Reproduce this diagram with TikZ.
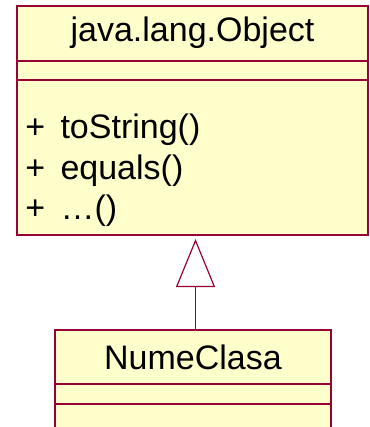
\documentclass[tikz,border=0pt]{standalone}
\usepackage{fontspec}
\setmainfont{Liberation Sans}
\usetikzlibrary{arrows.meta}

\definecolor{umlfill}{RGB}{255,255,204}
\definecolor{umlline}{RGB}{153,0,51}

\begin{document}
\begin{tikzpicture}[x=0.5pt, y=-0.5pt, font=\fontsize{17}{20}\selectfont,
    umlbox/.style={draw=umlline, fill=umlfill, line width=0.6pt, inner sep=0pt, outer sep=0pt, anchor=north west},
    umltext/.style={inner sep=0pt, anchor=base west}]
\useasboundingbox (0, 0) rectangle (369, 427);

% superclass
\node [umlbox, minimum width=175.5pt, minimum height=27.5pt, text height=12.2pt, text depth=4.5pt] (objname) at (17, 6) {java.lang.Object};
\node [umlbox, minimum width=175.5pt, minimum height=9.5pt] (objattr) at (17, 61) {};
\node [umlbox, minimum width=175.5pt, minimum height=77.5pt] (objmeth) at (17, 80) {};

\node [umltext] (m1) at (25, 139) {+\hspace{0.45em}toString()};
\node [umltext] (m2) at (25, 179) {+\hspace{0.45em}equals()};
\node [umltext] (m3) at (25, 219) {+\hspace{0.45em}\ldots()};

% subclass
\node [umlbox, minimum width=138pt, minimum height=27pt, text height=12.2pt, text depth=0pt] (clsname) at (55, 330) {NumeClasa};
\node [umlbox, minimum width=138pt, minimum height=10pt] (clsattr) at (55, 384) {};
\node [umlbox, minimum width=138pt, minimum height=20pt] (clsmeth) at (55, 404) {};

% generalization
\draw [-{Triangle[open, length=24pt, width=19.5pt]}, umlline, line width=0.6pt, shorten >=2pt] ([xshift=1.25pt]clsname.north) -- ([xshift=1.25pt]clsname.north |- objmeth.south);
\end{tikzpicture}
\end{document}
